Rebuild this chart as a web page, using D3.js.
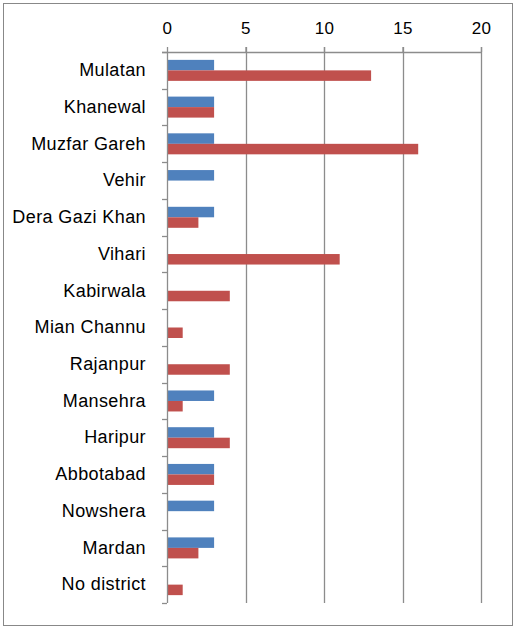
<!DOCTYPE html>
<html><head><meta charset="utf-8">
<script src="https://cdn.jsdelivr.net/npm/d3@7"></script>
<style>body{margin:0;background:#fff}svg{display:block}</style>
</head><body>
<script>
const categories = ["Mulatan","Khanewal","Muzfar Gareh","Vehir","Dera Gazi Khan","Vihari","Kabirwala","Mian Channu","Rajanpur","Mansehra","Haripur","Abbotabad","Nowshera","Mardan","No district"];
const seriesBlue = [3,3,3,3,3,0,0,0,0,3,3,3,3,3,0];
const seriesRed  = [13,3,16,0,2,11,4,1,4,1,4,3,0,2,1];
const xTicks = [0,5,10,15,20];
const colors = ["#4F81BD","#C0504D"];

(function(){
const W=516,H=628;
const svg=d3.select("body").append("svg").attr("width",W).attr("height",H);
svg.append("rect").attr("x",3.5).attr("y",3.5).attr("width",509).attr("height",622).attr("fill","#fff").attr("stroke","#888").attr("stroke-width",1);

const pL=167, pR=481, pT=52, pB=603;
const x=d3.scaleLinear().domain([0,20]).range([pL,pR]);
const y=d3.scaleBand().domain(categories).range([pT,pB]);
const font="'Liberation Sans', Arial, sans-serif";

// gridlines
svg.append("g").selectAll("line").data(xTicks.slice(1)).join("line")
  .attr("x1",d=>Math.round(x(d))+0.5).attr("x2",d=>Math.round(x(d))+0.5)
  .attr("y1",pT-5).attr("y2",pB).attr("stroke","#8c8c8c").attr("stroke-width",1.3);

const bh=10.5;
const groups=svg.append("g");
const data=categories.map((c,i)=>({c,v:[seriesBlue[i],seriesRed[i]]}));
data.forEach(d=>{
  const cy=y(d.c)+y.bandwidth()/2;
  d.v.forEach((v,k)=>{
    if(v<=0) return;
    groups.append("rect").attr("x",x(0)).attr("y",cy-bh+k*bh).attr("width",x(v)-x(0)).attr("height",bh).attr("fill",colors[k]);
  });
});

// top axis
const ax=d3.axisTop(x).tickValues(xTicks).tickSize(5).tickPadding(10).tickFormat(d3.format("d"));
const ga=svg.append("g").attr("transform",`translate(0,${pT})`).call(ax);
ga.select(".domain").attr("stroke","#8c8c8c").attr("stroke-width",1.3).attr("d",`M${pL-5},0.5H${pR+0.5}`);
ga.selectAll(".tick line").attr("stroke","#8c8c8c").attr("stroke-width",1.3);
ga.selectAll("text").attr("font-family",font).attr("font-size",17).attr("fill","#000").attr("letter-spacing","0.4px").attr("dy","-0.2em");

// left axis
const ay=d3.axisLeft(y).tickSize(0).tickPadding(21);
const gy=svg.append("g").attr("transform",`translate(${pL},0)`).call(ay);
gy.select(".domain").attr("stroke","#8c8c8c").attr("stroke-width",1.3).attr("d",`M0.5,${pT}V${pB}`);
gy.selectAll("text").attr("font-family",font).attr("font-size",18).attr("fill","#000").attr("letter-spacing","0.4px");
// category boundary ticks
svg.append("g").selectAll("line").data(d3.range(categories.length+1)).join("line")
  .attr("x1",pL-5).attr("x2",pL).attr("y1",i=>Math.round(pT+i*y.step())+0.5).attr("y2",i=>Math.round(pT+i*y.step())+0.5)
  .attr("stroke","#8c8c8c").attr("stroke-width",1.3);
})();
</script>
</body></html>
